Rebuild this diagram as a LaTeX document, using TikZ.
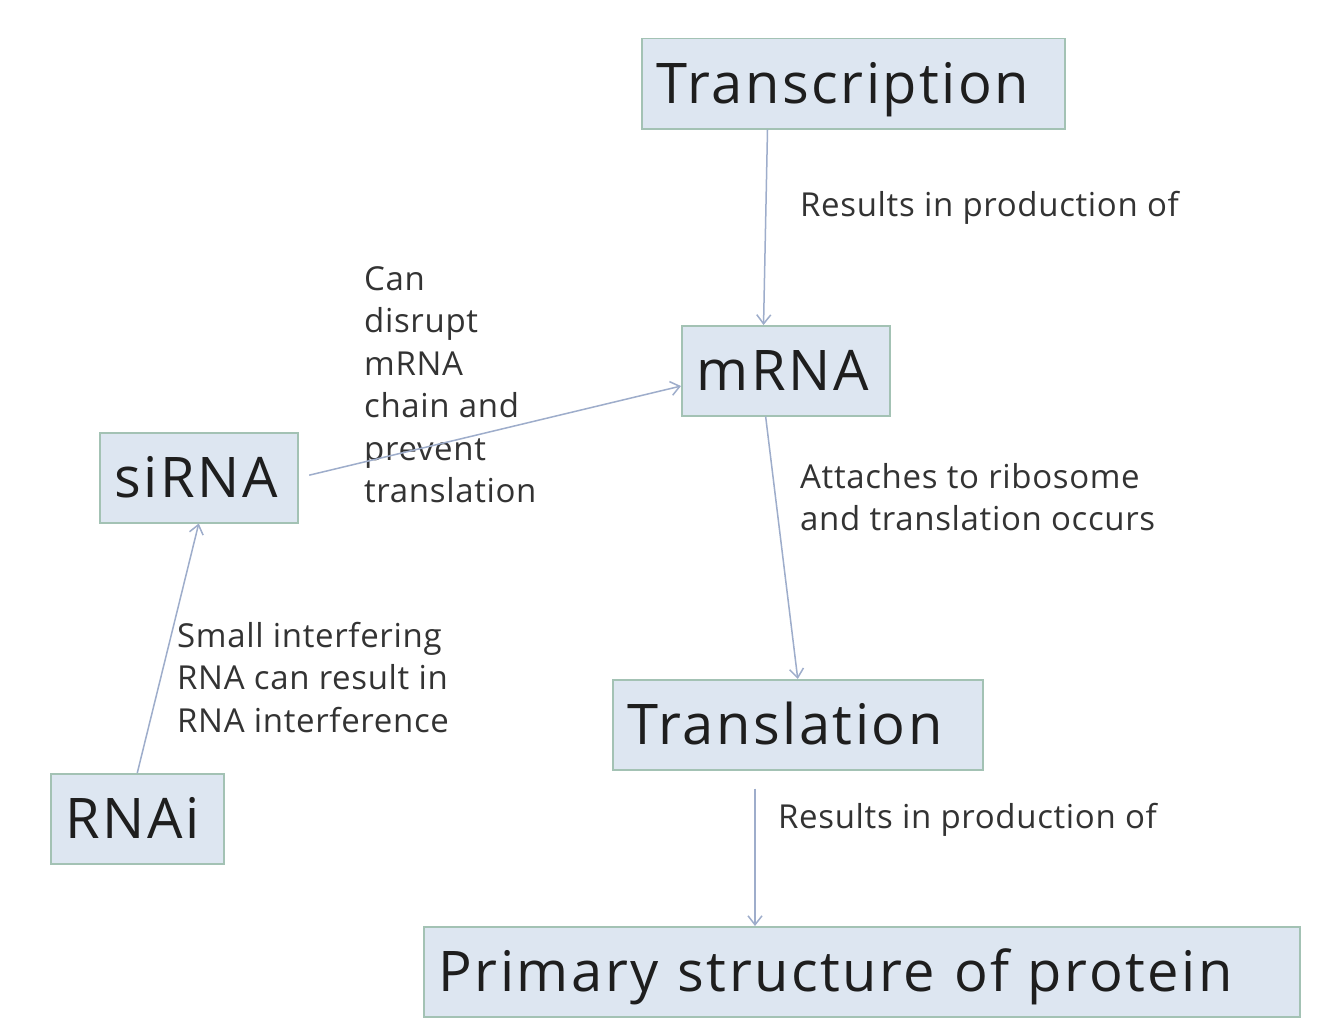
\documentclass[tikz,border=0pt]{standalone}
\usepackage{fontspec}
\setmainfont{Open Sans}
\newfontfamily\boxfont[LetterSpace=4.5]{Open Sans}
\newfontfamily\lblfont[LetterSpace=2]{Open Sans}
\usetikzlibrary{calc,arrows.meta}
\definecolor{boxfill}{HTML}{DDE6F1}
\definecolor{boxline}{HTML}{A3C2B4}
\definecolor{linkcol}{HTML}{9EADCB}
\definecolor{txt}{HTML}{1E1E1E}
\definecolor{lbltxt}{HTML}{333333}
\begin{document}
\begin{tikzpicture}[x=1pt,y=-1pt,
  box/.style={draw=boxline,line width=1.5pt,fill=boxfill,anchor=north west,
    inner xsep=15pt,inner ysep=0pt,minimum height=90pt,align=left,
    font=\boxfont\fontsize{56}{60}\selectfont,text=txt,text height=40pt,text depth=0pt},
  lbl/.style={anchor=north west,align=left,inner sep=0pt,text=lbltxt,
    font=\lblfont\fontsize{33}{42.5}\selectfont},
  link/.style={draw=linkcol,line width=1.5pt,-{Straight Barb[length=9pt,width=14pt,line width=1.5pt]}}]
\useasboundingbox[fill=white] (0,0) rectangle (1334,1033);
\node[box,text width=393pt] (tr) at (641,38) {Transcription};
\node[box,text width=178pt] (m) at (681,325) {mRNA};
\node[box,text width=168pt] (si) at (99,432) {siRNA};
\node[box,text width=143pt] (ri) at (50,773) {RNAi};
\node[box,text width=340pt] (tl) at (612,679) {Translation};
\node[box,text width=846pt] (pr) at (423,926) {Primary structure of protein};
\node[lbl] (l1) at (800,191) {Results in production of};
\node[lbl] (l2) at (364,266) {Can\\disrupt\\mRNA\\chain and\\prevent\\translation};
\node[lbl] (l3) at (800,463) {Attaches to ribosome\\and translation occurs};
\node[lbl] (l4) at (177,622) {Small interfering\\RNA can result in\\RNA interference};
\node[lbl] (l5) at (778,803) {Results in production of};
\coordinate (tlb) at ($(tl.south west)+(143,0)$);
\draw[link] ($(tr.south west)!0.298!(tr.south east)$) -- ($(m.north west)!0.394!(m.north east)$);
\draw[link,shorten <=11pt] (si.east) -- ($(m.north west)!0.667!(m.south west)$);
\draw[link] ($(m.south west)!0.404!(m.south east)$) -- (tl.north);
\draw[link] (ri.north) -- (si.south);
\draw[link,shorten <=18pt] (tlb) -- (tlb |- pr.north);
\end{tikzpicture}
\end{document}
